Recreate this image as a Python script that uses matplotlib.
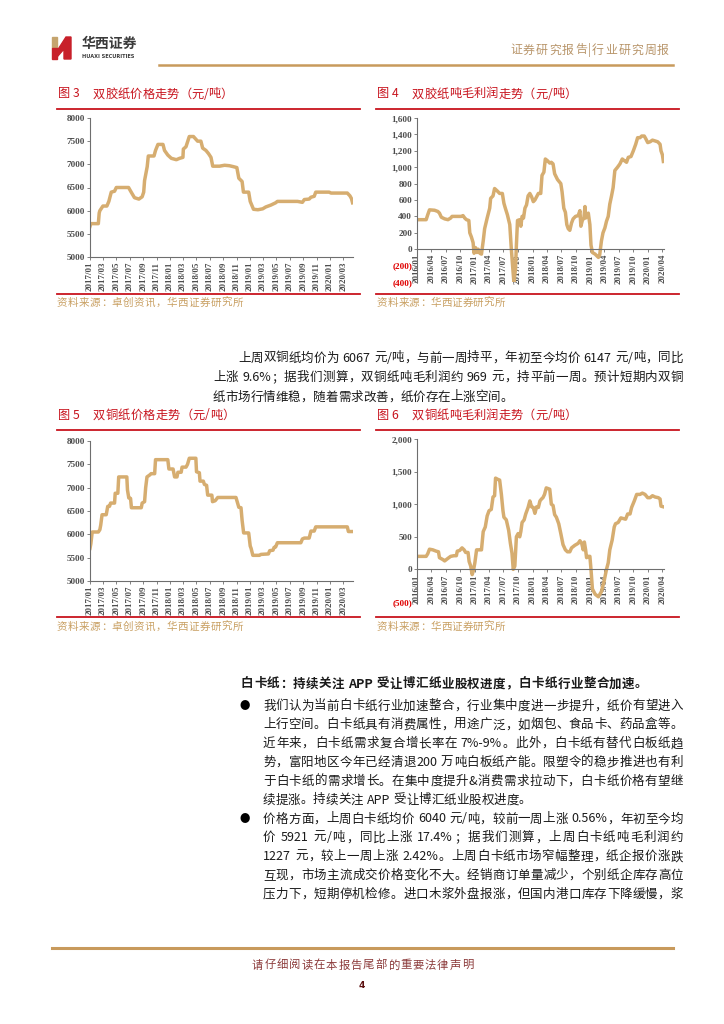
import re
import numpy as np
import pandas as pd
import matplotlib
matplotlib.use('Agg')
import matplotlib.pyplot as plt
from matplotlib.patches import Polygon, Rectangle
from matplotlib.lines import Line2D
from matplotlib.ticker import FuncFormatter

# ---------------- 数据 ----------------
# 图3 双胶纸价格（元/吨）
p3_dates = ['2017-01-01', '2017-01-05', '2017-02-08', '2017-02-12', '2017-02-15', '2017-03-01', '2017-03-19',
            '2017-03-28', '2017-04-08', '2017-04-23', '2017-05-01', '2017-06-26', '2017-07-08', '2017-07-23',
            '2017-08-12', '2017-08-27', '2017-09-03', '2017-09-07', '2017-09-19', '2017-09-24', '2017-10-20',
            '2017-10-27', '2017-11-07', '2017-11-30', '2017-12-07', '2017-12-22', '2018-01-07', '2018-01-30',
            '2018-02-14', '2018-03-01', '2018-03-03', '2018-03-15', '2018-03-30', '2018-04-18', '2018-05-07',
            '2018-05-22', '2018-05-30', '2018-06-14', '2018-06-26', '2018-07-07', '2018-07-15', '2018-08-15',
            '2018-09-07', '2018-09-29', '2018-10-17', '2018-11-02', '2018-11-11', '2018-11-26', '2018-12-02',
            '2018-12-26', '2019-01-02', '2019-01-17', '2019-02-06', '2019-02-28', '2019-03-14', '2019-04-06',
            '2019-04-28', '2019-05-06', '2019-08-06', '2019-08-28', '2019-09-06', '2019-09-28', '2019-10-06',
            '2019-10-21', '2019-10-28', '2019-12-28', '2020-01-06', '2020-03-20', '2020-04-01', '2020-04-08',
            '2020-04-13']
p3_vals = [5660, 5720, 5720, 5950, 6000, 6100, 6100, 6200, 6400, 6420, 6500, 6500, 6400, 6280, 6250, 6300,
           6400, 6650, 6950, 7180, 7180, 7300, 7430, 7430, 7300, 7200, 7130, 7100, 7130, 7150, 7330, 7380,
           7600, 7600, 7500, 7500, 7350, 7300, 7230, 7150, 6960, 6960, 6980, 6970, 6950, 6930, 6700, 6630,
           6400, 6400, 6200, 6030, 6020, 6040, 6080, 6120, 6170, 6200, 6200, 6180, 6240, 6250, 6290, 6310,
           6400, 6400, 6380, 6380, 6320, 6260, 6170]

# 图4 双胶纸吨毛利润（元/吨）
p4_dates = ['2016-01-01', '2016-02-28', '2016-03-09', '2016-03-20', '2016-04-21', '2016-05-12', '2016-05-22',
            '2016-06-03', '2016-06-24', '2016-07-15', '2016-08-01', '2016-08-10', '2016-10-08', '2016-10-18',
            '2016-10-29', '2016-11-09', '2016-11-24', '2016-11-30', '2016-12-10', '2016-12-21', '2016-12-27',
            '2017-01-05', '2017-01-14', '2017-01-22', '2017-02-02', '2017-02-12', '2017-02-23', '2017-03-04',
            '2017-03-20', '2017-04-05', '2017-04-11', '2017-04-26', '2017-05-06', '2017-05-23', '2017-06-07',
            '2017-06-24', '2017-07-04', '2017-07-13', '2017-07-26', '2017-08-10', '2017-08-20', '2017-08-29',
            '2017-09-05', '2017-09-15', '2017-09-21', '2017-09-28', '2017-10-12', '2017-10-19', '2017-10-27',
            '2017-11-05', '2017-11-14', '2017-11-24', '2017-12-04', '2017-12-15', '2017-12-26', '2018-01-06',
            '2018-01-16', '2018-01-27', '2018-02-07', '2018-02-22', '2018-03-02', '2018-03-14', '2018-03-23',
            '2018-04-05', '2018-04-20', '2018-04-30', '2018-05-11', '2018-05-21', '2018-06-08', '2018-06-29',
            '2018-07-07', '2018-07-18', '2018-07-28', '2018-08-06', '2018-08-15', '2018-08-25', '2018-09-05',
            '2018-09-15', '2018-09-30', '2018-10-17', '2018-10-28', '2018-11-03', '2018-11-12', '2018-11-22',
            '2018-11-29', '2018-12-03', '2018-12-09', '2018-12-20', '2018-12-30', '2019-01-06', '2019-01-15',
            '2019-02-01', '2019-02-22', '2019-03-02', '2019-03-13', '2019-03-23', '2019-04-04', '2019-04-14',
            '2019-04-25', '2019-05-05', '2019-05-16', '2019-05-26', '2019-06-06', '2019-06-23', '2019-07-08',
            '2019-07-23', '2019-08-05', '2019-08-19', '2019-08-30', '2019-09-16', '2019-10-01', '2019-10-16',
            '2019-10-28', '2019-11-12', '2019-11-23', '2019-12-09', '2019-12-18', '2019-12-31', '2020-01-15',
            '2020-01-30', '2020-02-16', '2020-03-03', '2020-03-18', '2020-03-24', '2020-04-02', '2020-04-08']
p4_vals = [360, 360, 420, 480, 475, 460, 440, 390, 370, 360, 380, 400, 400, 410, 380, 360, 350, 200, 150, 80,
           -50, 20, -40, 0, -50, -60, 100, 250, 380, 500, 620, 650, 740, 710, 680, 680, 560, 500, 420, 300,
           0, -230, -400, -250, 50, 350, 360, 280, 400, 380, 500, 540, 650, 680, 640, 580, 600, 640, 680, 680,
           900, 940, 1100, 1080, 1050, 1060, 1040, 920, 850, 800, 700, 500, 450, 300, 250, 230, 320, 370, 400,
           410, 470, 280, 350, 380, 520, 380, 420, 440, 300, 50, -40, -60, -100, -70, 100, 200, 260, 340, 400,
           550, 650, 750, 960, 1000, 1040, 1100, 1080, 1060, 1120, 1130, 1200, 1280, 1360, 1360, 1380, 1380,
           1350, 1300, 1310, 1330, 1320, 1310, 1280, 1200, 1150, 1070]

# 图5 双铜纸价格（元/吨）
p5_dates = ['2017-01-01', '2017-01-05', '2017-01-11', '2017-01-23', '2017-02-08', '2017-02-15', '2017-02-19',
            '2017-02-25', '2017-03-16', '2017-03-23', '2017-03-31', '2017-04-05', '2017-04-23', '2017-04-26',
            '2017-05-08', '2017-05-12', '2017-06-18', '2017-06-21', '2017-06-27', '2017-07-05', '2017-07-09',
            '2017-08-23', '2017-08-27', '2017-09-07', '2017-09-12', '2017-09-18', '2017-09-30', '2017-10-07',
            '2017-10-23', '2017-10-27', '2017-12-22', '2017-12-27', '2018-01-15', '2018-01-22', '2018-02-02',
            '2018-02-06', '2018-02-21', '2018-02-25', '2018-03-15', '2018-03-22', '2018-03-30', '2018-04-29',
            '2018-05-02', '2018-05-15', '2018-05-18', '2018-06-02', '2018-06-07', '2018-06-17', '2018-06-22',
            '2018-07-11', '2018-07-14', '2018-07-26', '2018-08-07', '2018-10-29', '2018-11-11', '2018-11-21',
            '2018-11-26', '2018-12-03', '2018-12-26', '2019-01-02', '2019-01-06', '2019-01-14', '2019-02-13',
            '2019-02-20', '2019-03-26', '2019-04-01', '2019-04-16', '2019-04-21', '2019-04-28', '2019-05-06',
            '2019-08-21', '2019-08-28', '2019-09-06', '2019-09-28', '2019-10-06', '2019-10-21', '2019-10-28',
            '2020-03-20', '2020-03-25', '2020-04-13']
p5_vals = [5700, 5800, 6050, 6050, 6050, 6100, 6200, 6420, 6420, 6600, 6600, 6670, 6670, 6880, 6880, 7230,
           7230, 6950, 6780, 6770, 6570, 6570, 6670, 6700, 7000, 7230, 7270, 7300, 7300, 7600, 7600, 7400,
           7400, 7230, 7230, 7330, 7330, 7440, 7440, 7500, 7630, 7630, 7340, 7320, 7140, 7140, 7070, 7050,
           6840, 6840, 6700, 6720, 6790, 6790, 6580, 6570, 6300, 6030, 6030, 5750, 5700, 5550, 5550, 5570,
           5580, 5650, 5660, 5720, 5730, 5820, 5820, 5900, 5920, 5920, 6070, 6070, 6160, 6160, 6060, 6060]

# 图6 双铜纸吨毛利润（元/吨）
p6_dates = ['2016-01-07', '2016-02-28', '2016-03-09', '2016-03-20', '2016-04-10', '2016-05-01', '2016-05-16',
            '2016-05-22', '2016-06-13', '2016-06-24', '2016-07-15', '2016-08-01', '2016-08-22', '2016-09-06',
            '2016-09-12', '2016-09-27', '2016-10-12', '2016-10-25', '2016-11-04', '2016-11-19', '2016-11-26',
            '2016-12-06', '2016-12-15', '2016-12-23', '2017-01-01', '2017-01-12', '2017-02-02', '2017-02-12',
            '2017-02-23', '2017-03-08', '2017-03-20', '2017-04-01', '2017-04-15', '2017-04-26', '2017-05-06',
            '2017-05-12', '2017-05-27', '2017-06-07', '2017-06-18', '2017-06-28', '2017-07-04', '2017-07-19',
            '2017-08-03', '2017-08-14', '2017-08-24', '2017-09-01', '2017-09-11', '2017-09-21', '2017-10-02',
            '2017-10-12', '2017-10-19', '2017-10-27', '2017-11-09', '2017-11-19', '2017-12-04', '2017-12-15',
            '2017-12-26', '2018-01-06', '2018-01-16', '2018-01-27', '2018-02-07', '2018-02-17', '2018-02-27',
            '2018-03-08', '2018-03-18', '2018-03-29', '2018-04-20', '2018-04-30', '2018-05-11', '2018-05-21',
            '2018-06-01', '2018-06-16', '2018-06-29', '2018-07-13', '2018-07-28', '2018-08-10', '2018-08-25',
            '2018-09-05', '2018-09-26', '2018-10-17', '2018-10-28', '2018-11-08', '2018-11-18', '2018-11-25',
            '2018-12-03', '2018-12-09', '2018-12-20', '2018-12-30', '2019-01-06', '2019-01-15', '2019-02-01',
            '2019-02-22', '2019-03-13', '2019-03-30', '2019-04-14', '2019-04-25', '2019-05-05', '2019-05-20',
            '2019-06-02', '2019-06-10', '2019-06-27', '2019-07-14', '2019-07-29', '2019-08-13', '2019-08-26',
            '2019-09-10', '2019-09-20', '2019-10-07', '2019-10-22', '2019-11-12', '2019-11-27', '2019-12-14',
            '2019-12-31', '2020-01-15', '2020-01-30', '2020-02-16', '2020-03-07', '2020-03-18', '2020-03-24',
            '2020-04-08']
p6_vals = [200, 200, 240, 310, 300, 280, 270, 180, 150, 130, 170, 200, 210, 210, 280, 290, 330, 300, 260, 260,
           120, 50, -80, -20, 100, 300, 300, 300, 580, 650, 820, 900, 920, 1110, 1130, 1400, 1380, 1370, 1150,
           900, 800, 760, 600, 400, 250, 0, 50, 500, 550, 500, 580, 720, 760, 850, 950, 1050, 960, 950, 860,
           960, 950, 1050, 1080, 1100, 1150, 1250, 1230, 1000, 980, 840, 800, 700, 550, 380, 300, 270, 270,
           330, 370, 400, 440, 400, 300, 420, 300, 180, 200, 200, 0, -300, -380, -420, -340, -180, 0, 100,
           300, 450, 650, 700, 720, 790, 780, 770, 850, 850, 950, 1050, 1150, 1150, 1170, 1150, 1100, 1100,
           1130, 1110, 1100, 1080, 970, 960]

price_ticks = ['2017/01', '2017/03', '2017/05', '2017/07', '2017/09', '2017/11', '2018/01', '2018/03', '2018/05',
               '2018/07', '2018/09', '2018/11', '2019/01', '2019/03', '2019/05', '2019/07', '2019/09', '2019/11',
               '2020/01', '2020/03']
profit_ticks = ['2016/01', '2016/04', '2016/07', '2016/10', '2017/01', '2017/04', '2017/07', '2017/10', '2018/01',
                '2018/04', '2018/07', '2018/10', '2019/01', '2019/04', '2019/07', '2019/10', '2020/01', '2020/04']

# 文字
para1 = ['上周双铜纸均价为 6067 元/吨，与前一周持平，年初至今均价 6147 元/吨，同比',
         '上涨 9.6%；据我们测算，双铜纸吨毛利润约 969 元，持平前一周。预计短期内双铜',
         '纸市场行情维稳，随着需求改善，纸价存在上涨空间。']
heading = '白卡纸：持续关注 APP 受让博汇纸业股权进度，白卡纸行业整合加速。'
bullet1 = ['我们认为当前白卡纸行业加速整合，行业集中度进一步提升，纸价有望进入',
           '上行空间。白卡纸具有消费属性，用途广泛，如烟包、食品卡、药品盒等。',
           '近年来，白卡纸需求复合增长率在 7%-9%。此外，白卡纸有替代白板纸趋',
           '势，富阳地区今年已经清退200 万吨白板纸产能。限塑令的稳步推进也有利',
           '于白卡纸的需求增长。在集中度提升&消费需求拉动下，白卡纸价格有望继',
           '续提涨。持续关注 APP 受让博汇纸业股权进度。']
bullet2 = ['价格方面，上周白卡纸均价 6040 元/吨，较前一周上涨 0.56%，年初至今均',
           '价 5921 元/吨，同比上涨 17.4%；据我们测算，上周白卡纸吨毛利润约',
           '1227 元，较上一周上涨 2.42%。上周白卡纸市场窄幅整理，纸企报价涨跌',
           '互现，市场主流成交价格变化不大。经销商订单量减少，个别纸企库存高位',
           '压力下，短期停机检修。进口木浆外盘报涨，但国内港口库存下降缓慢，浆']

# ---------------- 样式 ----------------
CJK = ['Noto Sans CJK SC', 'DejaVu Sans']
SERIF = ['Liberation Serif', 'DejaVu Serif']
LINE = '#D6AD70'
RED = '#C8141E'
GOLD = '#C89A5C'
SRC = '#C9A063'

W, H = 724, 1024
fig = plt.figure(figsize=(W / 100, H / 100), dpi=100)
renderer = fig.canvas.get_renderer()


def fx(x):
    return x / W


def fy(y):
    return 1 - y / H


def hline(x0, x1, y, color, lw):
    fig.add_artist(Line2D([fx(x0), fx(x1)], [fy(y), fy(y)], color=color, lw=lw, transform=fig.transFigure))


def txt(x, y, s, size, color='#1a1a1a', **kw):
    return fig.text(fx(x), fy(y), s, fontsize=size, color=color, family=kw.pop('family', CJK),
                    va='center', **kw)


_wcache = {}


def width_px(s, size, weight='normal'):
    key = (s, size, weight)
    if key not in _wcache:
        t = fig.text(0, 0, s, fontsize=size, family=CJK, weight=weight)
        _wcache[key] = t.get_window_extent(renderer=renderer).width
        t.remove()
    return _wcache[key]


def put_line(x0, x1, y, s, size, justify=True, color='#1a1a1a', weight='normal', spread=0.0):
    # 两端对齐：逐字放置，把剩余空白平均分到字间
    toks = [(m.group(), m.start()) for m in re.finditer(r'[0-9A-Za-z.%&\-]+|\S', s)]
    sp = size * 100 / 72 * 0.3
    widths = [width_px(t, size, weight) for t, _ in toks]
    spaces = [1 if i > 0 and s[st - 1] == ' ' else 0 for i, (t, st) in enumerate(toks)]
    total = sum(widths) + sp * sum(spaces)
    gap = (x1 - x0 - total) / (len(toks) - 1) if justify else spread
    x = x0
    for (t, _), w, spc in zip(toks, widths, spaces):
        x += spc * sp
        txt(x, y, t, size, color=color, weight=weight)
        x += w + gap


def add_chart(l, t, r, b, dates, vals, xticks, xlim, ylim, ystep, thousands):
    ax = fig.add_axes([fx(l), fy(b), (r - l) / W, (b - t) / H])
    ax.plot(pd.to_datetime(dates), vals, color=LINE, lw=2.5, solid_joinstyle='round')
    ax.set_xlim(pd.Timestamp(xlim[0]), pd.Timestamp(xlim[1]))
    ax.set_ylim(*ylim)
    ax.set_yticks(np.arange(ylim[0], ylim[1] + 1, ystep))
    if thousands:
        ax.yaxis.set_major_formatter(FuncFormatter(
            lambda v, p: '({:,.0f})'.format(-v) if v < 0 else '{:,.0f}'.format(v)))
        ax.spines['bottom'].set_position(('data', 0))
    ax.set_xticks(pd.to_datetime([k.replace('/', '-') + '-01' for k in xticks]))
    ax.set_xticklabels(xticks, rotation=90)
    for s in ['top', 'right']:
        ax.spines[s].set_visible(False)
    for s in ['left', 'bottom']:
        ax.spines[s].set_color('#6e6e6e')
        ax.spines[s].set_linewidth(0.8)
    ax.tick_params(length=2, width=0.6, color='#6e6e6e', pad=1.5)
    for lab in ax.get_yticklabels():
        lab.set_fontsize(6.6)
    for lab in ax.get_xticklabels():
        lab.set_fontsize(6.4)
    for lab in ax.get_xticklabels() + ax.get_yticklabels():
        lab.set_fontfamily(SERIF)
        lab.set_fontweight('bold')
        lab.set_color('#4d4d4d')
    fig.canvas.draw()
    for lab in ax.get_yticklabels():
        if lab.get_text().startswith('('):
            lab.set_color('#E00000')
    ax.patch.set_alpha(0)
    return ax


# ---------------- 页眉 ----------------
fig.add_artist(Rectangle((fx(52), fy(48)), 5 / W, 11 / H, color='#C5A46E', transform=fig.transFigure))
fig.add_artist(Rectangle((fx(52), fy(59)), 5 / W, 11 / H, color='#C8202A', transform=fig.transFigure))
fig.add_artist(Polygon([(fx(57), fy(51)), (fx(66), fy(37)), (fx(71), fy(37)), (fx(71), fy(59)),
                        (fx(64), fy(59)), (fx(64), fy(49)), (fx(57), fy(57))],
                       closed=True, color='#C8202A', transform=fig.transFigure))
txt(82, 44, '华西证券', 10, color='#3a3a3a', weight='bold')
txt(82, 57, 'HUAXI SECURITIES', 3.6, color='#3a3a3a', family=['DejaVu Sans'], weight='bold')
put_line(510, 669, 50, '证券研究报告|行业研究周报', 8.6, color='#B8956A')
hline(159, 673, 65, GOLD, 1.8)

# ---------------- 图表 ----------------
for (x0, x1, y, num, title, end) in [(57, 360, 94, '图 3', '双胶纸价格走势（元/吨）', 233),
                                     (376, 679, 94, '图 4', '双胶纸吨毛利润走势（元/吨）', 577),
                                     (57, 360, 415, '图 5', '双铜纸价格走势（元/吨）', 235),
                                     (376, 679, 415, '图 6', '双铜纸吨毛利润走势（元/吨）', 577)]:
    txt(x0 + 1, y, num, 8.8, color=RED)
    put_line(x0 + 36, end, y, title, 8.8, color=RED)
    hline(x0, x1, y + 15, RED, 1.3)

hline(57, 360, 294, RED, 1.3)
hline(376, 679, 294, RED, 1.3)
hline(57, 360, 617, RED, 1.3)
hline(376, 679, 617, RED, 1.3)
put_line(57, 243, 303, '资料来源：卓创资讯，华西证券研究所', 7.6, color=SRC)
put_line(377, 505, 303, '资料来源：华西证券研究所', 7.6, color=SRC)
put_line(57, 243, 627, '资料来源：卓创资讯，华西证券研究所', 7.6, color=SRC)
put_line(377, 505, 627, '资料来源：华西证券研究所', 7.6, color=SRC)

add_chart(90, 118, 353, 257, p3_dates, p3_vals, price_ticks, ('2017-01-01', '2020-04-15'),
          (5000, 8000), 500, False)
add_chart(417, 118, 664, 282, p4_dates, p4_vals, profit_ticks, ('2016-01-01', '2020-04-12'),
          (-400, 1600), 200, True)
add_chart(90, 441, 353, 581, p5_dates, p5_vals, price_ticks, ('2017-01-01', '2020-04-15'),
          (5000, 8000), 500, False)
add_chart(417, 439, 664, 602, p6_dates, p6_vals, profit_ticks, ('2016-01-01', '2020-04-12'),
          (-500, 2000), 500, True)

# ---------------- 正文 ----------------
BODY = 9.0
for i, line in enumerate(para1):
    x0 = 238 if i == 0 else 213
    put_line(x0, 683, 358 + i * 19.5, line, BODY, justify=(i < len(para1) - 1))

put_line(241, 683, 684, heading, BODY, justify=False, weight='bold', spread=0.4)

txt(240, 706, '●', 7.5, color='black')
for i, line in enumerate(bullet1):
    put_line(263, 683, 706 + i * 18.8, line, BODY, justify=(i < len(bullet1) - 1))

txt(240, 819, '●', 7.5, color='black')
for i, line in enumerate(bullet2):
    put_line(263, 683, 819 + i * 18.8, line, BODY, justify=True)

# ---------------- 页脚 ----------------
hline(52, 673, 948, GOLD, 2.2)
put_line(252, 473, 965, '请仔细阅读在本报告尾部的重要法律声明', 8.2, color='#8C3B3B')
txt(362, 985, '4', 6.5, color='#5C1010', ha='center', weight='bold', family=['DejaVu Sans'])

fig.savefig('out.png', dpi=100)
